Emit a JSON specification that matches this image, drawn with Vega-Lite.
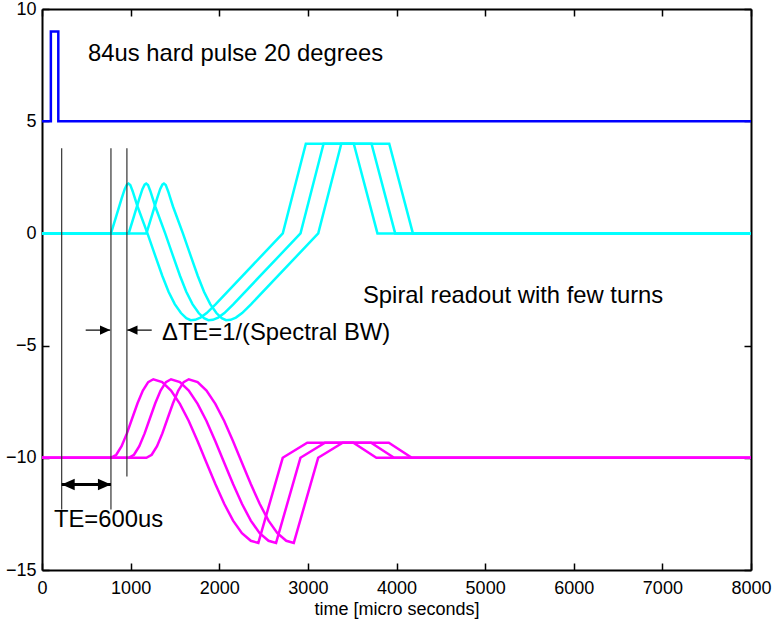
{
  "$schema": "https://vega.github.io/schema/vega-lite/v6.json",
  "width": 709,
  "height": 561,
  "autosize": {"type": "none"},
  "padding": {"left": 42, "top": 9, "right": 21, "bottom": 49},
  "background": "white",
  "config": {
    "view": {"stroke": null},
    "font": "Liberation Sans",
    "axis": {
      "labelFont": "Liberation Sans",
      "labelFontSize": 18,
      "labelColor": "black",
      "labelFlush": false,
      "titleFont": "Liberation Sans",
      "titleFontSize": 18,
      "titleFontWeight": "normal",
      "titleColor": "black",
      "domainColor": "black",
      "domainWidth": 2,
      "tickColor": "black",
      "tickWidth": 1.5,
      "tickSize": -7,
      "grid": false
    }
  },
  "datasets": {
    "curves": [
      {"c":"p","g":"rf","i":0,"t":0,"v":5},{"c":"p","g":"rf","i":1,"t":100,"v":5},{"c":"p","g":"rf","i":2,"t":100,"v":9},{"c":"p","g":"rf","i":3,"t":184,"v":9},{"c":"p","g":"rf","i":4,"t":184,"v":5},{"c":"p","g":"rf","i":5,"t":8000,"v":5},

      {"c":"x1","g":"gx","i":0,"t":0,"v":0},{"c":"x1","g":"gx","i":1,"t":778,"v":0},{"c":"x1","g":"gx","i":2,"t":838,"v":0.77},{"c":"x1","g":"gx","i":3,"t":898,"v":1.55},{"c":"x1","g":"gx","i":4,"t":933,"v":1.97},{"c":"x1","g":"gx","i":5,"t":958,"v":2.17},{"c":"x1","g":"gx","i":6,"t":976,"v":2.22},{"c":"x1","g":"gx","i":7,"t":996,"v":2.16},{"c":"x1","g":"gx","i":8,"t":1023,"v":1.88},{"c":"x1","g":"gx","i":9,"t":1078,"v":1.2},{"c":"x1","g":"gx","i":10,"t":1190,"v":0},{"c":"x1","g":"gx","i":11,"t":1278,"v":-1.0},{"c":"x1","g":"gx","i":12,"t":1358,"v":-1.9},{"c":"x1","g":"gx","i":13,"t":1428,"v":-2.6},{"c":"x1","g":"gx","i":14,"t":1498,"v":-3.15},{"c":"x1","g":"gx","i":15,"t":1568,"v":-3.55},{"c":"x1","g":"gx","i":16,"t":1628,"v":-3.78},{"c":"x1","g":"gx","i":17,"t":1678,"v":-3.87},{"c":"x1","g":"gx","i":18,"t":1728,"v":-3.85},{"c":"x1","g":"gx","i":19,"t":1788,"v":-3.75},{"c":"x1","g":"gx","i":20,"t":1858,"v":-3.55},{"c":"x1","g":"gx","i":21,"t":1958,"v":-3.16},{"c":"x1","g":"gx","i":22,"t":2717,"v":0},{"c":"x1","g":"gx","i":23,"t":2977,"v":4},{"c":"x1","g":"gx","i":24,"t":3518,"v":4},{"c":"x1","g":"gx","i":25,"t":3785,"v":0},{"c":"x1","g":"gx","i":26,"t":8000,"v":0},

      {"c":"x2","g":"gx","i":0,"t":0,"v":0},{"c":"x2","g":"gx","i":1,"t":978,"v":0},{"c":"x2","g":"gx","i":2,"t":1038,"v":0.77},{"c":"x2","g":"gx","i":3,"t":1098,"v":1.55},{"c":"x2","g":"gx","i":4,"t":1133,"v":1.97},{"c":"x2","g":"gx","i":5,"t":1158,"v":2.17},{"c":"x2","g":"gx","i":6,"t":1176,"v":2.22},{"c":"x2","g":"gx","i":7,"t":1196,"v":2.16},{"c":"x2","g":"gx","i":8,"t":1223,"v":1.88},{"c":"x2","g":"gx","i":9,"t":1278,"v":1.2},{"c":"x2","g":"gx","i":10,"t":1390,"v":0},{"c":"x2","g":"gx","i":11,"t":1478,"v":-1.0},{"c":"x2","g":"gx","i":12,"t":1558,"v":-1.9},{"c":"x2","g":"gx","i":13,"t":1628,"v":-2.6},{"c":"x2","g":"gx","i":14,"t":1698,"v":-3.15},{"c":"x2","g":"gx","i":15,"t":1768,"v":-3.55},{"c":"x2","g":"gx","i":16,"t":1828,"v":-3.78},{"c":"x2","g":"gx","i":17,"t":1878,"v":-3.87},{"c":"x2","g":"gx","i":18,"t":1928,"v":-3.85},{"c":"x2","g":"gx","i":19,"t":1988,"v":-3.75},{"c":"x2","g":"gx","i":20,"t":2058,"v":-3.55},{"c":"x2","g":"gx","i":21,"t":2158,"v":-3.16},{"c":"x2","g":"gx","i":22,"t":2917,"v":0},{"c":"x2","g":"gx","i":23,"t":3177,"v":4},{"c":"x2","g":"gx","i":24,"t":3718,"v":4},{"c":"x2","g":"gx","i":25,"t":3985,"v":0},{"c":"x2","g":"gx","i":26,"t":8000,"v":0},

      {"c":"x3","g":"gx","i":0,"t":0,"v":0},{"c":"x3","g":"gx","i":1,"t":1178,"v":0},{"c":"x3","g":"gx","i":2,"t":1238,"v":0.77},{"c":"x3","g":"gx","i":3,"t":1298,"v":1.55},{"c":"x3","g":"gx","i":4,"t":1333,"v":1.97},{"c":"x3","g":"gx","i":5,"t":1358,"v":2.17},{"c":"x3","g":"gx","i":6,"t":1376,"v":2.22},{"c":"x3","g":"gx","i":7,"t":1396,"v":2.16},{"c":"x3","g":"gx","i":8,"t":1423,"v":1.88},{"c":"x3","g":"gx","i":9,"t":1478,"v":1.2},{"c":"x3","g":"gx","i":10,"t":1590,"v":0},{"c":"x3","g":"gx","i":11,"t":1678,"v":-1.0},{"c":"x3","g":"gx","i":12,"t":1758,"v":-1.9},{"c":"x3","g":"gx","i":13,"t":1828,"v":-2.6},{"c":"x3","g":"gx","i":14,"t":1898,"v":-3.15},{"c":"x3","g":"gx","i":15,"t":1968,"v":-3.55},{"c":"x3","g":"gx","i":16,"t":2028,"v":-3.78},{"c":"x3","g":"gx","i":17,"t":2078,"v":-3.87},{"c":"x3","g":"gx","i":18,"t":2128,"v":-3.85},{"c":"x3","g":"gx","i":19,"t":2188,"v":-3.75},{"c":"x3","g":"gx","i":20,"t":2258,"v":-3.55},{"c":"x3","g":"gx","i":21,"t":2358,"v":-3.16},{"c":"x3","g":"gx","i":22,"t":3117,"v":0},{"c":"x3","g":"gx","i":23,"t":3377,"v":4},{"c":"x3","g":"gx","i":24,"t":3918,"v":4},{"c":"x3","g":"gx","i":25,"t":4185,"v":0},{"c":"x3","g":"gx","i":26,"t":8000,"v":0},

      {"c":"y1","g":"gy","i":0,"t":0,"v":-10},{"c":"y1","g":"gy","i":1,"t":778,"v":-10},{"c":"y1","g":"gy","i":2,"t":838,"v":-9.865},{"c":"y1","g":"gy","i":3,"t":898,"v":-9.484},{"c":"y1","g":"gy","i":4,"t":958,"v":-8.912},{"c":"y1","g":"gy","i":5,"t":1018,"v":-8.238},{"c":"y1","g":"gy","i":6,"t":1078,"v":-7.568},{"c":"y1","g":"gy","i":7,"t":1138,"v":-6.999},{"c":"y1","g":"gy","i":8,"t":1198,"v":-6.626},{"c":"y1","g":"gy","i":9,"t":1256,"v":-6.5},{"c":"y1","g":"gy","i":10,"t":1356,"v":-6.627},{"c":"y1","g":"gy","i":11,"t":1456,"v":-7.0},{"c":"y1","g":"gy","i":12,"t":1556,"v":-7.594},{"c":"y1","g":"gy","i":13,"t":1656,"v":-8.361},{"c":"y1","g":"gy","i":14,"t":1756,"v":-9.26},{"c":"y1","g":"gy","i":15,"t":1856,"v":-10.218},{"c":"y1","g":"gy","i":16,"t":1956,"v":-11.17},{"c":"y1","g":"gy","i":17,"t":2056,"v":-12.05},{"c":"y1","g":"gy","i":18,"t":2156,"v":-12.799},{"c":"y1","g":"gy","i":19,"t":2256,"v":-13.361},{"c":"y1","g":"gy","i":20,"t":2356,"v":-13.699},{"c":"y1","g":"gy","i":21,"t":2441,"v":-13.79},{"c":"y1","g":"gy","i":22,"t":2716,"v":-10},{"c":"y1","g":"gy","i":23,"t":2993,"v":-9.33},{"c":"y1","g":"gy","i":24,"t":3513,"v":-9.33},{"c":"y1","g":"gy","i":25,"t":3773,"v":-10},{"c":"y1","g":"gy","i":26,"t":8000,"v":-10},

      {"c":"y2","g":"gy","i":0,"t":0,"v":-10},{"c":"y2","g":"gy","i":1,"t":978,"v":-10},{"c":"y2","g":"gy","i":2,"t":1038,"v":-9.865},{"c":"y2","g":"gy","i":3,"t":1098,"v":-9.484},{"c":"y2","g":"gy","i":4,"t":1158,"v":-8.912},{"c":"y2","g":"gy","i":5,"t":1218,"v":-8.238},{"c":"y2","g":"gy","i":6,"t":1278,"v":-7.568},{"c":"y2","g":"gy","i":7,"t":1338,"v":-6.999},{"c":"y2","g":"gy","i":8,"t":1398,"v":-6.626},{"c":"y2","g":"gy","i":9,"t":1456,"v":-6.5},{"c":"y2","g":"gy","i":10,"t":1556,"v":-6.627},{"c":"y2","g":"gy","i":11,"t":1656,"v":-7.0},{"c":"y2","g":"gy","i":12,"t":1756,"v":-7.594},{"c":"y2","g":"gy","i":13,"t":1856,"v":-8.361},{"c":"y2","g":"gy","i":14,"t":1956,"v":-9.26},{"c":"y2","g":"gy","i":15,"t":2056,"v":-10.218},{"c":"y2","g":"gy","i":16,"t":2156,"v":-11.17},{"c":"y2","g":"gy","i":17,"t":2256,"v":-12.05},{"c":"y2","g":"gy","i":18,"t":2356,"v":-12.799},{"c":"y2","g":"gy","i":19,"t":2456,"v":-13.361},{"c":"y2","g":"gy","i":20,"t":2556,"v":-13.699},{"c":"y2","g":"gy","i":21,"t":2641,"v":-13.79},{"c":"y2","g":"gy","i":22,"t":2916,"v":-10},{"c":"y2","g":"gy","i":23,"t":3193,"v":-9.33},{"c":"y2","g":"gy","i":24,"t":3713,"v":-9.33},{"c":"y2","g":"gy","i":25,"t":3973,"v":-10},{"c":"y2","g":"gy","i":26,"t":8000,"v":-10},

      {"c":"y3","g":"gy","i":0,"t":0,"v":-10},{"c":"y3","g":"gy","i":1,"t":1178,"v":-10},{"c":"y3","g":"gy","i":2,"t":1238,"v":-9.865},{"c":"y3","g":"gy","i":3,"t":1298,"v":-9.484},{"c":"y3","g":"gy","i":4,"t":1358,"v":-8.912},{"c":"y3","g":"gy","i":5,"t":1418,"v":-8.238},{"c":"y3","g":"gy","i":6,"t":1478,"v":-7.568},{"c":"y3","g":"gy","i":7,"t":1538,"v":-6.999},{"c":"y3","g":"gy","i":8,"t":1598,"v":-6.626},{"c":"y3","g":"gy","i":9,"t":1656,"v":-6.5},{"c":"y3","g":"gy","i":10,"t":1756,"v":-6.627},{"c":"y3","g":"gy","i":11,"t":1856,"v":-7.0},{"c":"y3","g":"gy","i":12,"t":1956,"v":-7.594},{"c":"y3","g":"gy","i":13,"t":2056,"v":-8.361},{"c":"y3","g":"gy","i":14,"t":2156,"v":-9.26},{"c":"y3","g":"gy","i":15,"t":2256,"v":-10.218},{"c":"y3","g":"gy","i":16,"t":2356,"v":-11.17},{"c":"y3","g":"gy","i":17,"t":2456,"v":-12.05},{"c":"y3","g":"gy","i":18,"t":2556,"v":-12.799},{"c":"y3","g":"gy","i":19,"t":2656,"v":-13.361},{"c":"y3","g":"gy","i":20,"t":2756,"v":-13.699},{"c":"y3","g":"gy","i":21,"t":2841,"v":-13.79},{"c":"y3","g":"gy","i":22,"t":3116,"v":-10},{"c":"y3","g":"gy","i":23,"t":3393,"v":-9.33},{"c":"y3","g":"gy","i":24,"t":3913,"v":-9.33},{"c":"y3","g":"gy","i":25,"t":4173,"v":-10},{"c":"y3","g":"gy","i":26,"t":8000,"v":-10}
    ],
    "vlines": [
      {"x": 222, "y": 3.8, "y2": -12.3},
      {"x": 778, "y": 3.8, "y2": -12.3},
      {"x": 958, "y": 3.8, "y2": -10.83}
    ],
    "teArrow": [{"x": 222, "x2": 778, "y": -11.19}],
    "teHeads": [{"x": 222, "y": -11.19, "dir": "l"}, {"x": 778, "y": -11.19, "dir": "r"}],
    "dteArrow": [{"x": 493, "x2": 770, "y": -4.31}, {"x": 1238, "x2": 962, "y": -4.31}],
    "dteHeads": [{"x": 770, "y": -4.31, "dir": "r"}, {"x": 962, "y": -4.31, "dir": "l"}],
    "labels": [
      {"x": 519, "y": 7.98, "label": "84us hard pulse 20 degrees"},
      {"x": 3622, "y": -2.77, "label": "Spiral readout with few turns"},
      {"x": 1354, "y": -4.45, "label": "ΔTE=1/(Spectral BW)"},
      {"x": 135, "y": -12.75, "label": "TE=600us"}
    ]
  },
  "layer": [
    {
      "data": {"name": "curves"},
      "mark": {"type": "line", "strokeWidth": 2.5},
      "encoding": {
        "x": {"field": "t", "type": "quantitative", "scale": {"domain": [0, 8000], "nice": false, "zero": false},
              "axis": {"orient": "bottom", "values": [0,1000,2000,3000,4000,5000,6000,7000,8000], "format": "d", "title": "time [micro seconds]", "labelPadding": 16, "titlePadding": 3}},
        "y": {"field": "v", "type": "quantitative", "scale": {"domain": [-15, 10], "nice": false, "zero": false},
              "axis": {"orient": "left", "values": [-15,-10,-5,0,5,10], "format": "d", "title": null, "labelPadding": 13, "labelExpr": "replace(datum.label, '-', '\u2212')"}},
        "color": {"field": "g", "type": "nominal", "scale": {"domain": ["rf","gx","gy"], "range": ["#0000ff","#00ffff","#ff00ff"]}, "legend": null},
        "detail": {"field": "c"},
        "order": {"field": "i", "type": "quantitative"}
      }
    },
    {
      "data": {"name": "vlines"},
      "mark": {"type": "rule", "color": "#333333", "strokeWidth": 1.2},
      "encoding": {
        "x": {"field": "x", "type": "quantitative", "axis": null},
        "y": {"field": "y", "type": "quantitative", "axis": null},
        "y2": {"field": "y2"}
      }
    },
    {
      "data": {"name": "teArrow"},
      "mark": {"type": "rule", "color": "black", "strokeWidth": 3},
      "encoding": {
        "x": {"field": "x", "type": "quantitative", "axis": null},
        "x2": {"field": "x2"},
        "y": {"field": "y", "type": "quantitative", "axis": null}
      }
    },
    {
      "data": {"name": "dteArrow"},
      "mark": {"type": "rule", "color": "black", "strokeWidth": 1.2},
      "encoding": {
        "x": {"field": "x", "type": "quantitative", "axis": null},
        "x2": {"field": "x2"},
        "y": {"field": "y", "type": "quantitative", "axis": null}
      }
    },
    {
      "data": {"name": "teHeads"},
      "mark": {"type": "point", "filled": true, "color": "black", "opacity": 1, "size": 676, "strokeWidth": 0},
      "encoding": {
        "x": {"field": "x", "type": "quantitative", "axis": null},
        "y": {"field": "y", "type": "quantitative", "axis": null},
        "shape": {"field": "dir", "type": "nominal", "scale": {"domain": ["r","l"], "range": ["M0,0L-1,-0.45L-1,0.45Z", "M0,0L1,-0.45L1,0.45Z"]}, "legend": null}
      }
    },
    {
      "data": {"name": "dteHeads"},
      "mark": {"type": "point", "filled": true, "color": "black", "opacity": 1, "size": 420, "strokeWidth": 0},
      "encoding": {
        "x": {"field": "x", "type": "quantitative", "axis": null},
        "y": {"field": "y", "type": "quantitative", "axis": null},
        "shape": {"field": "dir", "type": "nominal", "scale": {"domain": ["r","l"], "range": ["M0,0L-1,-0.45L-1,0.45Z", "M0,0L1,-0.45L1,0.45Z"]}, "legend": null}
      }
    },
    {
      "data": {"name": "labels"},
      "mark": {"type": "text", "align": "left", "baseline": "middle", "fontSize": 23.8, "font": "Liberation Sans", "color": "black"},
      "encoding": {
        "x": {"field": "x", "type": "quantitative", "axis": {"orient": "top", "labels": false, "title": null, "values": [0,1000,2000,3000,4000,5000,6000,7000,8000]}},
        "y": {"field": "y", "type": "quantitative", "axis": {"orient": "right", "labels": false, "title": null, "values": [-15,-10,-5,0,5,10]}},
        "text": {"field": "label"}
      }
    }
  ],
  "resolve": {"axis": {"x": "independent", "y": "independent"}, "scale": {"shape": "independent"}}
}
